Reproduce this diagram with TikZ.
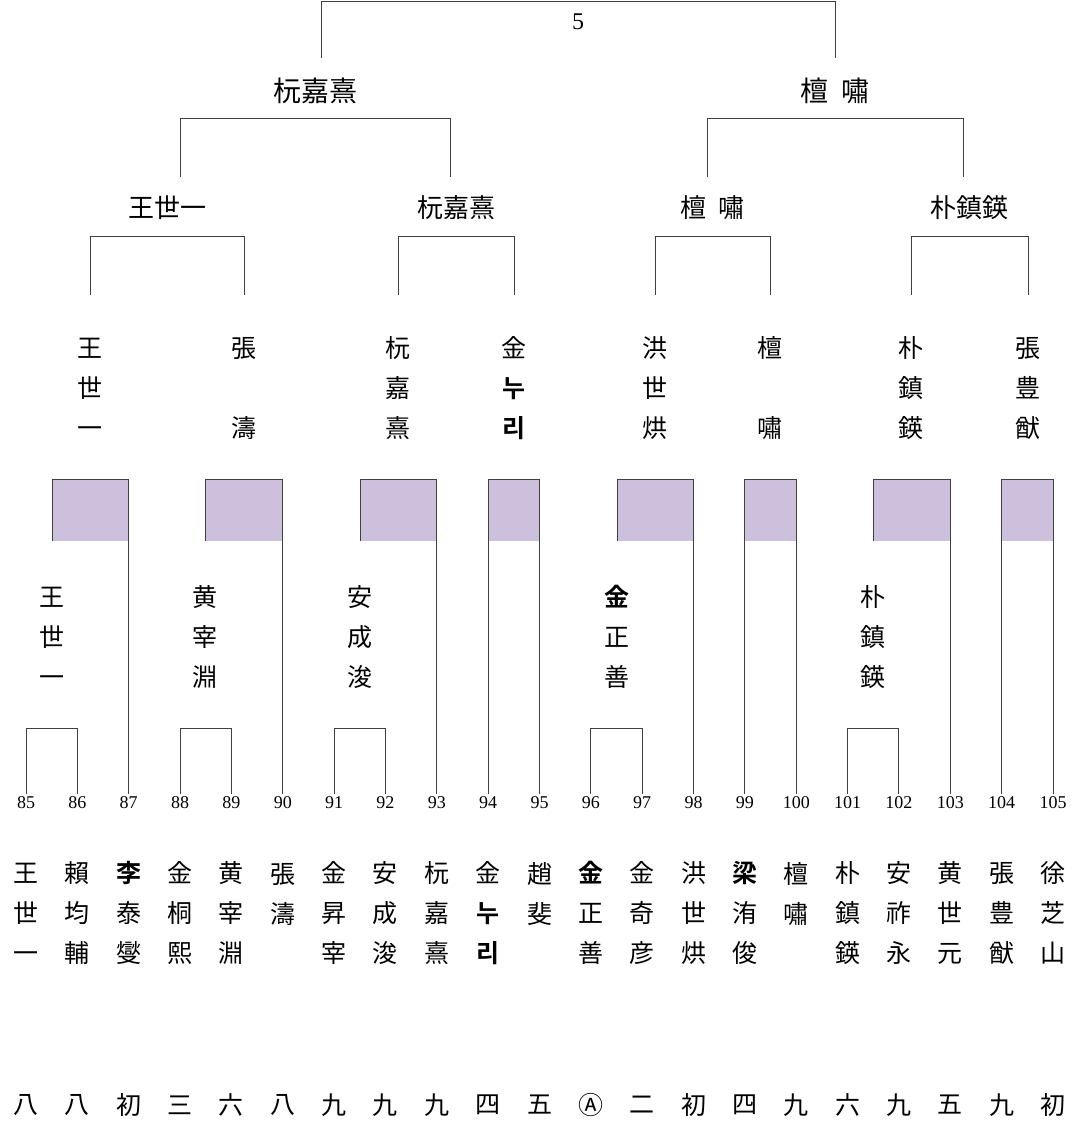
\documentclass[tikz,border=0pt]{standalone}
\usepackage{fontspec}
\setmainfont{Liberation Serif}
\newfontfamily\cjk{Noto Sans CJK KR}
\newfontfamily\cjkb{Noto Sans CJK KR Bold}
\definecolor{lav}{HTML}{CDC0DC}
\definecolor{ln}{HTML}{404040}
\begin{document}
\begin{tikzpicture}[x=1pt,y=-1pt,
  nm/.style={font=\cjk\fontsize{25}{40}\selectfont,align=center,inner sep=0pt},
  lb/.style={font=\cjk\fontsize{26}{30}\selectfont,inner sep=0pt},
  num/.style={font=\fontsize{18}{20}\selectfont,inner sep=0pt},
  br/.style={draw=ln,line width=1pt}]
\useasboundingbox (0,0) rectangle (1080,1144);
% numbers
\foreach \n [count=\i from 0] in {85,...,105}{
  \node[num] (n\n) at ({26+51.35*\i},803) {\n};
}
% bottom names
\foreach \t [count=\i from 0] in {
 {王\\世\\一},{賴\\均\\輔},{{\cjkb 李}\\泰\\燮},{金\\桐\\熙},{黄\\宰\\淵},{張\\濤\\\phantom{一}},
 {金\\昇\\宰},{安\\成\\浚},{杬\\嘉\\熹},{金\\{\cjkb 누}\\{\cjkb 리}},{趙\\斐\\\phantom{一}},
 {{\cjkb 金}\\正\\善},{金\\奇\\彦},{洪\\世\\烘},{{\cjkb 梁}\\洧\\俊},{檀\\嘯\\\phantom{一}},
 {朴\\鎮\\鍈},{安\\祚\\永},{黄\\世\\元},{張\\豊\\猷},{徐\\芝\\山}}{
  \node[nm] (b\i) at ({26+51.35*\i},913) {\t};
}
\foreach \t [count=\i from 0] in {八,八,初,三,六,八,九,九,九,四,五,Ⓐ,二,初,四,九,六,九,五,九,初}{
  \node[nm] (r\i) at ({26+51.35*\i},1105) {\t};
}
% first round
\foreach \a/\b/\w/\t in {85/86/52/{王\\世\\一},88/89/205/{黄\\宰\\淵},91/92/360/{安\\成\\浚},96/97/617/{{\cjkb 金}\\正\\善},101/102/873/{朴\\鎮\\鍈}}{
  \node[nm] (w\a) at (\w,637) {\t};
  \draw[br] ([yshift=3pt]n\a.north) -- ++(0,-65) -| ([yshift=3pt]n\b.north);
}
% second round boxes
\foreach \l/\r in {52/87,205/90,360/93,617/98,873/103}{
  \pgfmathsetmacro{\rx}{26+51.35*(\r-85)}
  \fill[lav] (\l,479) rectangle (\rx,541);
  \draw[br] (\l,541) -- (\l,479) -- (\rx,479) -- ([yshift=3pt]n\r.north);
}
\foreach \a/\b in {94/95,99/100,104/105}{
  \pgfmathsetmacro{\ax}{26+51.35*(\a-85)}
  \pgfmathsetmacro{\bx}{26+51.35*(\b-85)}
  \fill[lav] (\ax,479) rectangle (\bx,541);
  \draw[br] ([yshift=3pt]n\a.north) -- (\ax,479) -- (\bx,479) -- ([yshift=3pt]n\b.north);
}
% second round winners
\foreach \x/\t [count=\i] in {90/{王\\世\\一},244/{張\\\phantom{一}\\濤},398/{杬\\嘉\\熹},514/{金\\{\cjkb 누}\\{\cjkb 리}},655/{洪\\世\\烘},770/{檀\\\phantom{一}\\嘯},911/{朴\\鎮\\鍈},1028/{張\\豊\\猷}}{
  \node[nm] (q\i) at (\x,388) {\t};
}
% quarter brackets
\foreach \a/\b/\t [count=\i] in {90/244/王世一,398/514/杬嘉熹,655/770/檀\ \ 嘯,911/1028/朴鎮鍈}{
  \draw[br] (\a,295) -- (\a,236) -- (\b,236) -- (\b,295);
  \node[lb] (s\i) at ({(\a+\b)/2},208) {\t};
}
% semis
\draw[br] (180,177) -- (180,118) -- (450,118) -- (450,177);
\draw[br] (707,177) -- (707,118) -- (963,118) -- (963,177);
\node[lb,font=\cjk\fontsize{28}{30}\selectfont] (f1) at (315,91) {杬嘉熹};
\node[lb,font=\cjk\fontsize{28}{30}\selectfont] (f2) at (835,91) {檀\ \ 嘯};
% final
\draw[br] (321,58) -- (321,1) -- (835,1) -- (835,58);
\node[font=\fontsize{24}{26}\selectfont] (ch) at (578,22) {5};
\end{tikzpicture}
\end{document}
